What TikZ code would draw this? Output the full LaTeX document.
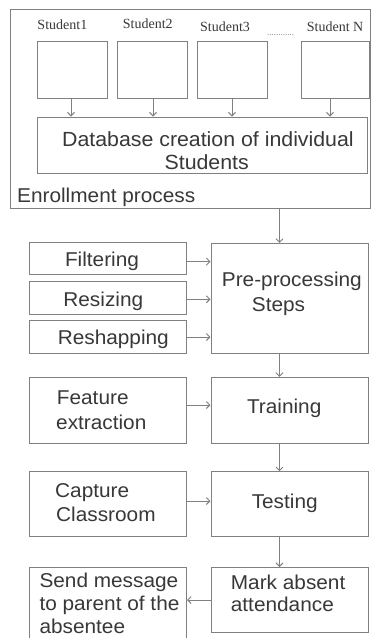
\documentclass[tikz,border=0pt]{standalone}
\usepackage{fontspec}
\setmainfont{Liberation Sans}[FakeStretch=1.04]
\newfontfamily\timesf{Liberation Serif}
\usetikzlibrary{arrows.meta,calc}
\definecolor{ln}{HTML}{808080}
\definecolor{tx}{HTML}{383838}
\begin{document}
\begin{tikzpicture}[x=1pt,y=-1pt,
  box/.style={draw=ln,line width=1pt,rectangle,inner sep=0pt,minimum width=157pt},
  arr/.style={draw=ln,line width=0.9pt,-{Straight Barb[length=3.5pt,width=7pt]}},
  lbl/.style={text=tx,font=\fontsize{20}{23}\selectfont,inner sep=0pt,anchor=base west},
  stu/.style={text=tx,font=\timesf\fontsize{14}{16}\selectfont,inner sep=0pt,anchor=base west}]
\useasboundingbox (0,0) rectangle (371,638);
\fill[white] (0,0) rectangle (371,638);

% enrollment group
\node[box,minimum width=360.5pt,minimum height=199pt] (outer) at (190.25,108.5) {};
\node[box,minimum width=70pt,minimum height=56.8pt] (s1) at (72,70.1) {};
\node[box,minimum width=70pt,minimum height=56.8pt] (s2) at (152,70.1) {};
\node[box,minimum width=70pt,minimum height=56.8pt] (s3) at (232,70.1) {};
\node[box,minimum width=68pt,minimum height=56.8pt] (s4) at (335,70.1) {};
\node[stu] (l1) at (37.3,29.3) {Student1};
\node[stu] (l2) at (122.7,28.8) {Student2};
\node[stu] (l3) at (200,31.5) {Student3};
\node[stu,font=\timesf\fontsize{9}{10}\selectfont,text=ln] (dots) at (267,35) {............};
\node[stu] (l4) at (306.7,31.5) {Student N};
\node[box,minimum width=330pt,minimum height=56pt] (db) at (202,145) {};
\node[lbl,font=\fontsize{20.5}{23}\selectfont] (dbt1) at (62,146) {Database creation of individual};
\node[lbl,font=\fontsize{20.5}{23}\selectfont,anchor=base] (dbt2) at (206.7,169) {Students};
\node[lbl] (enr) at (17,202.7) {Enrollment process};

\draw[arr] ($(s1.south)+(-1,0)$) -- ($(s1.south |- db.north)+(-1,0)$);
\draw[arr] ($(s2.south)+(1,0)$) -- ($(s2.south |- db.north)+(1,0)$);
\draw[arr] (s3.south) -- (s3.south |- db.north);
\draw[arr] ($(s4.south)+(-5,0)$) -- ($(s4.south |- db.north)+(-5,0)$);

% left inputs
\node[box,minimum width=157.5pt,minimum height=31.6pt] (filt) at (107.75,258.5) {};
\node[box,minimum width=157.5pt,minimum height=32.3pt] (resz) at (107.75,297.85) {};
\node[box,minimum width=157.5pt,minimum height=32.6pt] (resh) at (107.75,337) {};
\node[lbl,anchor=base] (filtt) at (102,266.7) {Filtering};
\node[lbl,anchor=base] (reszt) at (103.3,306.7) {Resizing};
\node[lbl,anchor=base] (resht) at (113.3,344) {Reshapping};

\node[box,minimum width=157.5pt,minimum height=66pt] (feat) at (107.75,410.3) {};
\node[lbl] (featt1) at (56.7,404.3) {Feature};
\node[lbl] (featt2) at (56,429) {extraction};

\node[box,minimum width=157.5pt,minimum height=65.3pt] (cap) at (107.75,504.3) {};
\node[lbl] (capt1) at (55,497.7) {Capture};
\node[lbl] (capt2) at (56,521.7) {Classroom};

\node[box,minimum width=157.5pt,minimum height=93pt] (send) at (107.75,613.5) {};
\node[lbl] (sendt1) at (39.3,587.3) {Send message};
\node[lbl] (sendt2) at (39.3,610.3) {to parent of the};
\node[lbl] (sendt3) at (39.3,633.3) {absentee};

% right column
\node[box,minimum height=110pt] (pre) at (289.5,298.3) {};
\node[lbl] (pret1) at (221.7,286.7) {Pre-processing};
\node[lbl] (pret2) at (251.7,311.7) {Steps};

\node[box,minimum height=66pt] (train) at (289.5,410.3) {};
\node[lbl,anchor=base] (traint) at (284.2,413.3) {Training};

\node[box,minimum height=65.3pt] (test) at (289.5,504.3) {};
\node[lbl,anchor=base] (testt) at (284.7,508.3) {Testing};

\node[box,minimum height=65pt] (mark) at (289.5,600) {};
\node[lbl] (markt1) at (230.7,589.3) {Mark absent};
\node[lbl] (markt2) at (230.7,611.7) {attendance};

% connectors
\coordinate (mx) at (279.5,0);
\draw[arr] (outer.south -| mx) -- (pre.north -| mx);
\draw[arr] (pre.south -| mx) -- (train.north -| mx);
\draw[arr] (train.south -| mx) -- (test.north -| mx);
\draw[arr] (test.south -| mx) -- (mark.north -| mx);

\draw[arr] ($(filt.east)+(0,3.2)$) -- ($(filt.east -| pre.west)+(0,3.2)$);
\draw[arr] ($(resz.east)+(0,1.4)$) -- ($(resz.east -| pre.west)+(0,1.4)$);
\draw[arr] (resh.east) -- (resh.east -| pre.west);
\draw[arr] ($(feat.east)+(0,-5.3)$) -- ($(feat.east -| train.west)+(0,-5.3)$);
\draw[arr] ($(cap.east)+(0,-3.3)$) -- ($(cap.east -| test.west)+(0,-3.3)$);
\draw[arr] (mark.west) -- (mark.west -| send.east);
\end{tikzpicture}
\end{document}
